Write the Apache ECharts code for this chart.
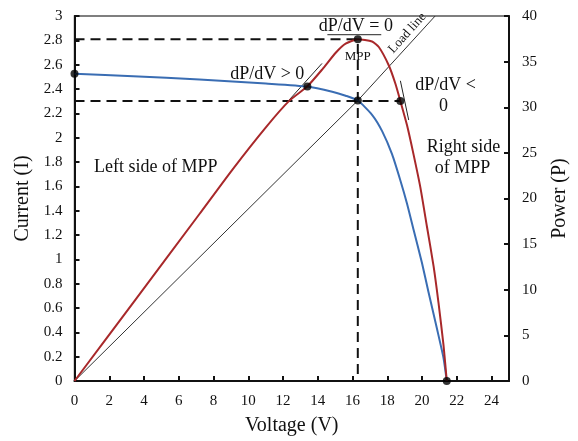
<!DOCTYPE html>
<html>
<head>
<meta charset="utf-8">
<script src="https://cdn.jsdelivr.net/npm/echarts@6/dist/echarts.min.js"></script>
<style>html,body{margin:0;padding:0;background:#fff;overflow:hidden}#c{width:578px;height:441px}</style>
</head>
<body>
<div id="c"></div>
<script>
// Current (I) vs Voltage (V)
const currentCurve = [[0,2.526],[3.37,2.504],[7.19,2.479],[11.01,2.445],[13.4,2.42],[14.83,2.378],[15.6,2.345],[16.3,2.305],[17.12,2.188],[17.7,2.054],[18.27,1.864],[18.75,1.648],[19.13,1.459],[19.51,1.243],[19.99,0.972],[20.37,0.729],[20.85,0.433],[21.23,0.19],[21.42,0]];
// Power (P) vs Voltage (V)
const powerCurve = [[0,0],[3.5,8.9],[7.19,18.3],[9.1,23.2],[11.01,27.8],[12.35,30.7],[13.4,32.3],[14.26,34.16],[15.03,35.97],[15.6,36.97],[16.3,37.45],[17.12,37.2],[17.51,36.6],[18.08,34.6],[18.46,32.6],[18.75,30.68],[19.13,28.05],[19.51,24.81],[19.9,21.22],[20.28,16.9],[20.66,12.59],[20.94,8.63],[21.23,3.96],[21.42,0]];
// Load line (current axis)
const loadLine = [[0,0],[16.3,2.305],[20.75,3.0]];
// Tangent segments (power axis)
const tangentPos = [[12.35,30.8],[14.24,34.8]];
const tangentZero = [[14.55,37.95],[17.65,37.95]];
const tangentNeg = [[18.75,32.9],[19.23,28.6]];
// Dashed guides (power axis)
const dashTop = [[0,37.45],[16.3,37.45],[16.3,0]];
const dashLow = [[0,30.68],[18.75,30.68]];
// Marked points
const dotsCurrent = [[0,2.526],[13.4,2.42],[16.3,2.305]];
const dotsPower = [[16.3,37.45],[18.75,30.68],[21.42,0]];
// Axis ticks
const xTicks = {min:0, max:25, interval:2};
const iTicks = {min:0, max:3, interval:0.2};
const pTicks = {min:0, max:40, interval:5};
// Annotations [text, voltage, current, size, rotation]
const notes = [
  ['dP/dV = 0', 16.19, 2.915, 18, 0],
  ['MPP', 16.3, 2.664, 13, 0],
  ['Load line', 19.15, 2.86, 13, 48],
  ['dP/dV > 0', 11.09, 2.518, 18, 0],
  ['dP/dV <', 21.35, 2.43, 18, 0],
  ['0', 21.23, 2.258, 18, 0],
  ['Right side', 22.38, 1.918, 18, 0],
  ['of MPP', 22.32, 1.748, 18, 0],
  ['Left side of MPP', 4.67, 1.756, 18, 0]
];

const FONT = "'Liberation Serif','Times New Roman',serif";
const chart = echarts.init(document.getElementById('c'));
const axisCommon = {
  axisLine:{show:true, lineStyle:{color:'#111', width:2}},
  axisTick:{show:true, inside:true, length:5, lineStyle:{color:'#111', width:2}},
  splitLine:{show:false},
  axisLabel:{color:'#111', fontFamily:FONT, fontSize:15},
  nameTextStyle:{color:'#111', fontFamily:FONT, fontSize:20}
};
function seg(data, yi, color, width, type){
  return {type:'line', data:data, yAxisIndex:yi, symbol:'none', silent:true,
    lineStyle:{color:color, width:width, type:type||'solid'}, z:2};
}
chart.setOption({
  animation:false,
  grid:{left:74.5, right:68, top:16, bottom:54.3, show:true, borderColor:'#555', borderWidth:1.5},
  xAxis:Object.assign({}, axisCommon, {type:'value', min:xTicks.min, max:xTicks.max, interval:xTicks.interval,
    name:'Voltage (V)', nameLocation:'middle', nameGap:35,
    axisLabel:Object.assign({}, axisCommon.axisLabel, {margin:13, formatter:v=> v===25?'':String(v)})}),
  yAxis:[
    Object.assign({}, axisCommon, {type:'value', min:iTicks.min, max:iTicks.max, interval:iTicks.interval,
      name:'Current (I)', nameLocation:'middle', nameGap:41, nameRotate:90,
      axisLabel:Object.assign({}, axisCommon.axisLabel, {margin:12})}),
    Object.assign({}, axisCommon, {type:'value', position:'right', min:pTicks.min, max:pTicks.max, interval:pTicks.interval,
      name:'Power (P)', nameLocation:'middle', nameGap:41, nameRotate:90,
      axisLabel:Object.assign({}, axisCommon.axisLabel, {margin:13})})
  ],
  series:[
    seg(dashTop, 1, '#111', 2, [10,6]),
    seg(dashLow, 1, '#111', 2, [10,6]),
    seg(loadLine, 0, '#333', 1),
    seg(tangentPos, 1, '#222', 1),
    seg(tangentZero, 1, '#222', 1),
    seg(tangentNeg, 1, '#222', 1),
    {type:'line', data:currentCurve, yAxisIndex:0, symbol:'none', smooth:0.2, lineStyle:{color:'#3a6db3', width:2}, z:3},
    {type:'line', data:powerCurve, yAxisIndex:1, symbol:'none', smooth:0.2, lineStyle:{color:'#a8282a', width:2}, z:3},
    {type:'scatter', data:dotsCurrent, yAxisIndex:0, symbolSize:8, itemStyle:{color:'#000'}, z:5},
    {type:'scatter', data:dotsPower, yAxisIndex:1, symbolSize:8, itemStyle:{color:'#000'}, z:5}
  ]
});
const g = notes.map(n=>{
  const p = chart.convertToPixel({xAxisIndex:0, yAxisIndex:0}, [n[1], n[2]]);
  return {type:'text', x:p[0], y:p[1], rotation:n[4]*Math.PI/180, z:10,
    style:{text:n[0], fill:'#111', font:n[3]+'px '+FONT, align:'center', verticalAlign:'middle'}};
});
chart.setOption({graphic:g});
</script>
</body>
</html>
